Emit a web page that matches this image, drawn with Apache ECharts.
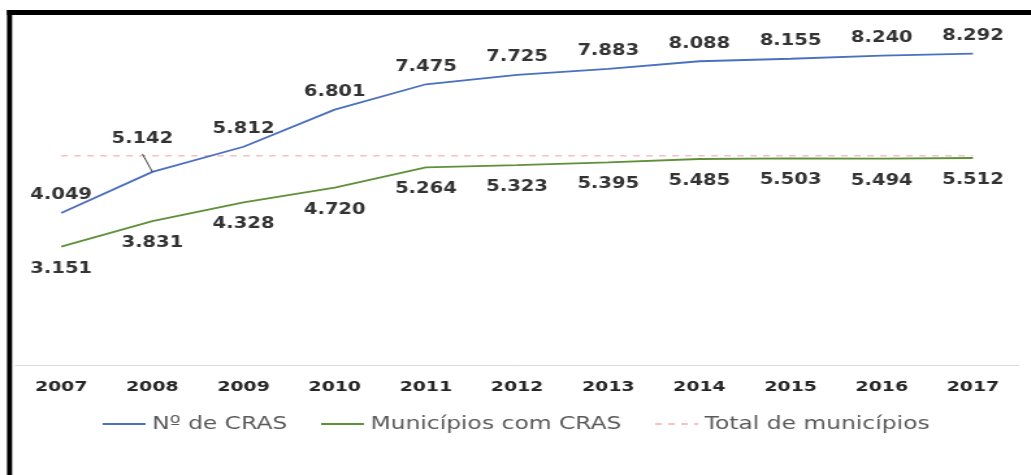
<!DOCTYPE html>
<html>
<head>
<meta charset="utf-8">
<script src="https://cdn.jsdelivr.net/npm/echarts@6/dist/echarts.min.js"></script>
<style>
  html, body { margin: 0; padding: 0; background: #fff; overflow: hidden; }
  /* chart is laid out narrower and stretched horizontally to the page width */
  #chart { width: 793px; height: 475px; transform: scaleX(1.3); transform-origin: 0 0; }
</style>
</head>
<body>
<div id="chart"></div>
<script>
const years = ['2007', '2008', '2009', '2010', '2011', '2012', '2013', '2014', '2015', '2016', '2017'];
const numCras = [4049, 5142, 5812, 6801, 7475, 7725, 7883, 8088, 8155, 8240, 8292];
const municipiosComCras = [3151, 3831, 4328, 4720, 5264, 5323, 5395, 5485, 5503, 5494, 5512];
const totalMunicipios = [5570, 5570, 5570, 5570, 5570, 5570, 5570, 5570, 5570, 5570, 5570];
const seriesNames = ['Nº de CRAS', 'Municípios com CRAS', 'Total de municípios'];

const fmt = v => v.toLocaleString('de-DE');
const labelFont = { fontFamily: 'DejaVu Sans', fontWeight: 'bold', fontSize: 15, color: '#333333' };

const chart = echarts.init(document.getElementById('chart'));
chart.setOption({
  animation: false,
  backgroundColor: '#fff',
  graphic: [
    { type: 'rect', shape: { x: 5.4, y: 10, width: 3.9, height: 465 }, style: { fill: '#000' } },
    { type: 'rect', shape: { x: 5.4, y: 10, width: 790, height: 5 }, style: { fill: '#000' } }
  ],
  grid: { left: 12, right: 9.5, top: 27, bottom: 110 },
  legend: {
    data: seriesNames,
    left: 'center',
    top: 410,
    itemWidth: 33,
    itemHeight: 14,
    itemGap: 25,
    itemStyle: { opacity: 0 },
    textStyle: { fontFamily: 'DejaVu Sans', fontSize: 18, color: '#595959' }
  },
  xAxis: {
    type: 'category',
    data: years,
    boundaryGap: true,
    axisLine: { lineStyle: { color: '#d9d9d9', width: 1 } },
    axisTick: { show: false },
    axisLabel: { margin: 15, fontFamily: 'DejaVu Sans', fontWeight: 'bold', fontSize: 14.5, color: '#262626' }
  },
  yAxis: {
    type: 'value',
    min: 0,
    max: 9000,
    show: false,
    splitLine: { show: false }
  },
  series: [
    {
      name: seriesNames[2],
      type: 'line',
      data: totalMunicipios,
      symbol: 'circle',
      symbolSize: 0,
      showSymbol: false,
      lineStyle: { color: '#f4c0c0', width: 1.5, type: [5, 5] },
      itemStyle: { color: '#f4c0c0' },
      z: 1
    },
    {
      name: seriesNames[0],
      type: 'line',
      data: numCras.map((v, i) => i === 1
        ? { value: v, label: { offset: [-7.7, -15.5] }, labelLine: { show: true } }
        : v),
      symbol: 'circle',
      symbolSize: 0,
      showSymbol: true,
      lineStyle: { color: '#4a70c0', width: 1.8 },
      itemStyle: { color: '#4a70c0' },
      label: Object.assign({ show: true, position: 'top', distance: 10, formatter: p => fmt(p.value) }, labelFont),
      labelLine: { show: false, lineStyle: { color: '#404040', width: 1 } },
      z: 3
    },
    {
      name: seriesNames[1],
      type: 'line',
      data: municipiosComCras,
      symbol: 'circle',
      symbolSize: 0,
      showSymbol: true,
      lineStyle: { color: '#5f9139', width: 1.8 },
      itemStyle: { color: '#5f9139' },
      label: Object.assign({ show: true, position: 'bottom', distance: 14.5, formatter: p => fmt(p.value) }, labelFont),
      z: 2
    }
  ]
});
</script>
</body>
</html>
